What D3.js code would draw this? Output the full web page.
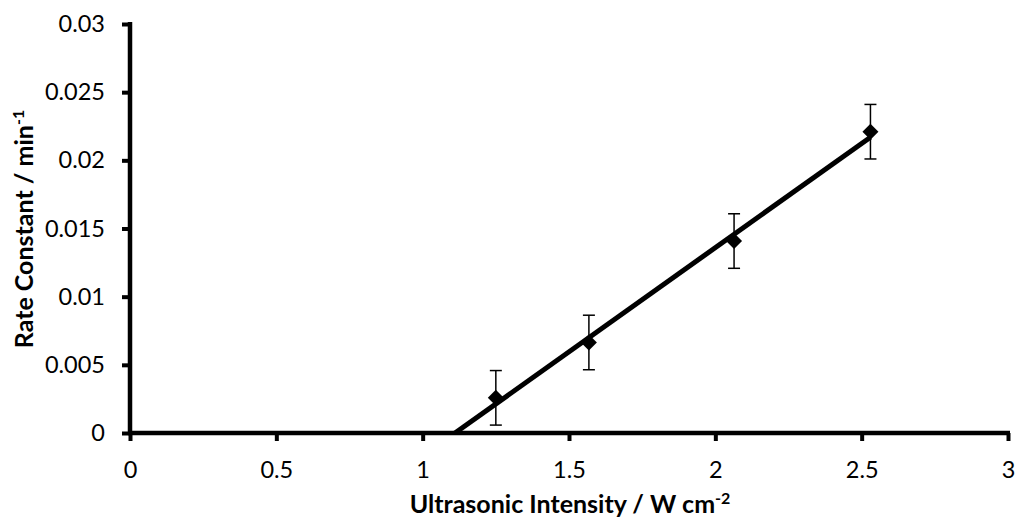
<!DOCTYPE html>
<html>
<head>
<meta charset="utf-8">
<script src="https://cdn.jsdelivr.net/npm/d3@7"></script>
<style>
  html, body { margin: 0; padding: 0; background: #fff; }
  text { font-family: Lato, "Open Sans", sans-serif; fill: #000; }
</style>
</head>
<body>
<svg id="chart" width="1016" height="519"></svg>
<script>
const intensity = [1.25, 1.568, 2.064, 2.53];
const rateConstant = [0.00258, 0.00664, 0.01408, 0.0221];
const errorBar = [0.002, 0.002, 0.002, 0.002];
const xTicks = [0, 0.5, 1, 1.5, 2, 2.5, 3];
const yTicks = [0, 0.005, 0.01, 0.015, 0.02, 0.025, 0.03];
const xTitle = "Ultrasonic Intensity / W cm";
const xTitleSup = "-2";
const yTitle = "Rate Constant / min";
const yTitleSup = "-1";

const svg = d3.select("#chart");
const x = d3.scaleLinear().domain([0, 3]).range([130, 1008]);
const y = d3.scaleLinear().domain([0, 0.03]).range([433, 24]);

// Linear regression for trend line
const n = intensity.length;
const mx = d3.mean(intensity), my = d3.mean(rateConstant);
let sxy = 0, sxx = 0;
for (let i = 0; i < n; i++) { sxy += (intensity[i]-mx)*(rateConstant[i]-my); sxx += (intensity[i]-mx)**2; }
const slope = sxy / sxx, intercept = my - slope * mx;
const xStart = -intercept / slope, xEnd = d3.max(intensity);

// Axes
const yAxis = d3.axisLeft(y).tickValues(yTicks).tickSize(8).tickPadding(17)
  .tickFormat(d => d3.format("~g")(d));
const xAxis = d3.axisBottom(x).tickValues(xTicks).tickSize(8).tickPadding(20)
  .tickFormat(d => d3.format("~g")(d));

const gy = svg.append("g").attr("transform", "translate(130,0)").call(yAxis);
const gx = svg.append("g").attr("transform", "translate(0,433)").call(xAxis);
[gy, gx].forEach(g => {
  g.select(".domain").remove();
  g.selectAll(".tick line").attr("stroke", "#000").attr("stroke-width", 4);
  g.selectAll(".tick text").attr("font-size", 23.5).attr("fill", "#000")
    .style("font-family", "Lato, 'Open Sans', sans-serif");
});
// axis lines
svg.append("line").attr("x1", 130).attr("x2", 130).attr("y1", y(0.03) - 2).attr("y2", y(0) + 2)
  .attr("stroke", "#000").attr("stroke-width", 4.5);
svg.append("line").attr("x1", 128).attr("x2", x(3) + 2).attr("y1", 433).attr("y2", 433)
  .attr("stroke", "#000").attr("stroke-width", 4.5);

// Trend line
svg.append("line")
  .attr("x1", x(xStart)).attr("y1", y(slope * xStart + intercept))
  .attr("x2", x(xEnd)).attr("y2", y(slope * xEnd + intercept))
  .attr("stroke", "#000").attr("stroke-width", 5);

// Error bars
const eb = svg.append("g");
intensity.forEach((xi, i) => {
  const cx = x(xi), top = y(rateConstant[i] + errorBar[i]), bot = y(rateConstant[i] - errorBar[i]);
  eb.append("line").attr("x1", cx).attr("x2", cx).attr("y1", top).attr("y2", bot).attr("stroke", "#000").attr("stroke-width", 1.5);
  eb.append("line").attr("x1", cx - 6).attr("x2", cx + 6).attr("y1", top).attr("y2", top).attr("stroke", "#000").attr("stroke-width", 1.5);
  eb.append("line").attr("x1", cx - 6).attr("x2", cx + 6).attr("y1", bot).attr("y2", bot).attr("stroke", "#000").attr("stroke-width", 1.5);
});

// Markers (diamonds)
svg.append("g").selectAll("path").data(intensity).join("path")
  .attr("transform", (d, i) => `translate(${x(d)},${y(rateConstant[i])})`)
  .attr("d", "M0,-8L8,0L0,8L-8,0Z")
  .attr("fill", "#000");

// Axis titles
const xt = svg.append("text").attr("x", 570).attr("y", 513).attr("text-anchor", "middle")
  .attr("font-size", 25).attr("font-weight", "bold");
xt.append("tspan").text(xTitle);
xt.append("tspan").attr("dy", -9).attr("font-size", 16).text(xTitleSup);

const yt = svg.append("text").attr("transform", "translate(33,229) rotate(-90)").attr("text-anchor", "middle")
  .attr("font-size", 25).attr("font-weight", "bold");
yt.append("tspan").text(yTitle);
yt.append("tspan").attr("dy", -9).attr("font-size", 16).text(yTitleSup);
</script>
</body>
</html>
